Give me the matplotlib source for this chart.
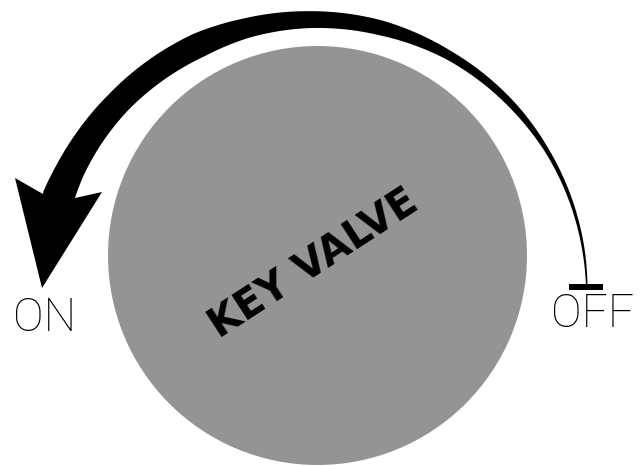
import numpy as np
import matplotlib.pyplot as plt
from matplotlib.patches import Circle, Polygon, Rectangle

# valve disc (pixel coords, y down)
valve_center = (317.5, 255.5)
valve_radius = 209.5
valve_color = '#949494'

# centre line of the curved arrow, from the OFF end to the head
arrow_x = [587, 582, 572, 550, 514, 448, 381, 307, 247, 200, 150, 118, 88, 70, 59]
arrow_y = [285, 250, 200, 151, 112, 56, 26, 17, 31, 46, 73, 102, 140, 170, 196]
arrow_w = [1.5, 2.5, 3.5, 4.5, 7, 9.5, 15, 17, 20, 25, 25, 25, 27, 29, 32]
arc_center = (317, 275)

# arrow head: left notch, left barb, tip, right barb, right notch
head_x = [43, 15, 42, 102, 75]
head_y = [194, 178, 288, 192, 198]

labels = ['ON', 'OFF', 'KEY VALVE']

fig = plt.figure(figsize=(6.42, 4.66), dpi=100)
ax = fig.add_axes([0, 0, 1, 1])
ax.set_xlim(0, 642)
ax.set_ylim(466, 0)
ax.axis('off')

ax.add_patch(Circle(valve_center, valve_radius, color=valve_color, lw=0))

# tapering arrow body: smooth radius against angle around arc_center
cx, cy = arc_center
dx = np.array(arrow_x) - cx
dy = cy - np.array(arrow_y)
ang = np.arctan2(dy, dx)
rad = np.hypot(dx, dy)
coef = np.polyfit(ang, rad, 4)
t = np.linspace(ang[0], ang[-1], 300)
r = np.polyval(coef, t)
w = np.interp(t, ang, arrow_w)
ux, uy = np.cos(t), -np.sin(t)
outer = np.column_stack([cx + (r + w / 2) * ux, cy + (r + w / 2) * uy])
inner = np.column_stack([cx + (r - w / 2) * ux, cy + (r - w / 2) * uy])
head = np.column_stack([head_x, head_y])
poly = np.vstack([outer, head, inner[::-1]])
ax.add_patch(Polygon(poly, closed=True, color='black', lw=0))

# OFF stop mark
ax.add_patch(Rectangle((569, 284), 34, 6, color='black', lw=0))

thin = dict(family=['Roboto', 'Open Sans', 'DejaVu Sans'], weight='light',
            fontsize=33, color='black')
ax.text(45, 318, labels[0], ha='center', va='center', **thin)
ax.text(593, 314, labels[1], ha='center', va='center', **thin)
ax.text(314, 264, labels[2], ha='center', va='center', rotation=33,
        rotation_mode='anchor', fontsize=29, fontweight='bold',
        family='DejaVu Sans')

fig.savefig('out.png', dpi=100)
